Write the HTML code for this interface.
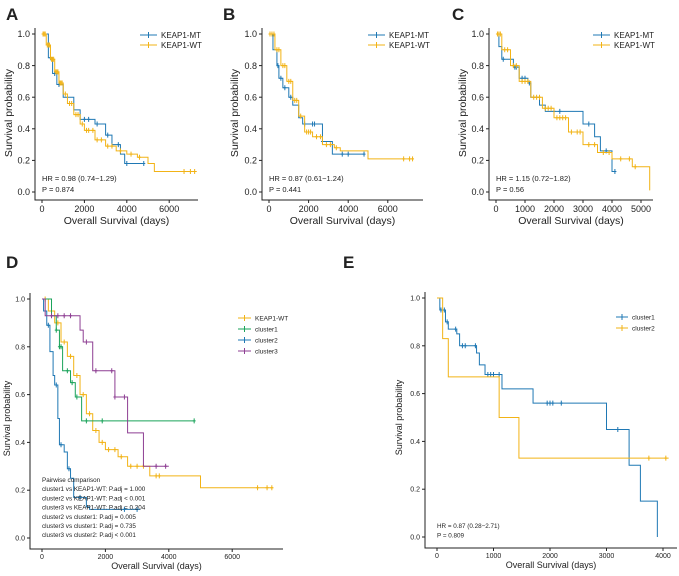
<!DOCTYPE html>
<html><head><meta charset="utf-8"><style>
body{margin:0;background:#fff}
svg{display:block;font-family:"Liberation Sans",Arial,sans-serif}
</style></head><body>
<svg id="fig" width="679" height="576" viewBox="0 0 679 576" xmlns="http://www.w3.org/2000/svg"></svg>
<script>
// ---- data ----
const aWtT=[0,200,400,600,800,1000,1200,1500,1800,2000,2500,3000,3500,4000,4500,5000,5300,7300];
const aWtS=[1,0.93,0.84,0.76,0.69,0.62,0.56,0.49,0.43,0.39,0.33,0.29,0.26,0.24,0.22,0.18,0.13,0.13];
const aWtC=[50,100,150,250,300,350,450,500,550,650,700,750,850,900,950,1100,1300,1400,1600,1700,1900,2100,2200,2400,2600,2800,3100,3300,3700,4200,4600,6700,7000,7200];
const aMtT=[0,300,500,700,1000,1500,1800,2500,3000,3300,3700,3900,4800];
const aMtS=[1,0.85,0.75,0.68,0.6,0.52,0.46,0.43,0.36,0.3,0.24,0.18,0.18];
const aMtC=[400,600,800,2000,2200,2600,3100,3600,4000,4800];
const bWtT=[0,300,600,900,1200,1500,1800,2200,2700,3300,3600,5000,7300];
const bWtS=[1,0.9,0.8,0.7,0.58,0.48,0.38,0.35,0.3,0.28,0.26,0.21,0.21];
const bWtC=[50,150,250,400,500,700,800,1000,1100,1300,1400,1600,1900,2000,2100,2400,2600,2900,3100,3400,6800,7100,7250];
const bMtT=[0,200,400,500,700,1000,1200,1500,1700,2700,2700,3200,4800];
const bMtS=[1,0.9,0.8,0.72,0.66,0.6,0.55,0.47,0.43,0.38,0.32,0.24,0.24];
const bMtC=[450,600,800,1100,1800,2200,2300,2700,3700,4000,4800];
const cWtT=[0,200,500,800,1200,1600,2000,2500,3000,3500,4000,4700,5300];
const cWtS=[1,0.9,0.8,0.7,0.6,0.53,0.47,0.38,0.3,0.25,0.21,0.16,0.01];
const cWtC=[50,100,150,300,400,600,700,900,1000,1100,1300,1400,1500,1700,1800,1900,2100,2200,2300,2400,2600,2800,2900,3200,3400,3700,3900,4300,4600,4800];
const cMtT=[0,100,200,600,800,1100,1200,1500,1700,3000,3400,3600,4000,4100];
const cMtS=[1,0.92,0.84,0.79,0.72,0.69,0.6,0.55,0.51,0.43,0.35,0.26,0.13,0.13];
const cMtC=[250,650,700,900,1000,1150,2000,2200,3200,3800,4100];
const dWtT=[0,200,400,600,800,1000,1200,1400,1600,1800,2000,2400,2700,3400,5000,7300];
const dWtS=[1,0.95,0.9,0.82,0.76,0.68,0.6,0.52,0.45,0.4,0.37,0.34,0.3,0.26,0.21,0.21];
const dWtC=[100,300,500,700,900,1100,1300,1500,1700,1900,2100,2300,2500,2800,3000,3200,3600,3700,6800,7100,7250];
const d1T=[0,300,450,550,650,900,1050,1250,4800];
const d1S=[1,0.93,0.87,0.8,0.7,0.65,0.59,0.49,0.49];
const d1C=[450,550,600,800,950,1100,1400,1900,4800];
const d2T=[0,50,150,250,350,400,500,550,700,800,900,1000,1400,1500,3100];
const d2S=[1,0.95,0.89,0.78,0.68,0.64,0.5,0.39,0.36,0.29,0.25,0.17,0.13,0.12,0.12];
const d2C=[200,450,600,850,1200,2600,3000];
const d3T=[0,100,1200,1300,1600,2300,2700,3200,4000];
const d3S=[1,0.93,0.87,0.82,0.7,0.59,0.44,0.3,0.3];
const d3C=[300,500,700,900,1400,1700,2200,2300,2600,3600,3900];
const e1T=[0,50,150,200,350,400,700,750,850,1150,1700,3000,3400,3600,3900];
const e1S=[1,0.95,0.9,0.87,0.85,0.8,0.77,0.72,0.68,0.62,0.56,0.45,0.3,0.15,0.0];
const e1C=[70,130,180,330,450,500,680,900,950,1000,1100,1950,2000,2050,2200,3200];
const e2T=[0,100,200,1100,1450,4100];
const e2S=[1,0.83,0.67,0.5,0.33,0.33];
const e2C=[3750,4050];
const xTicksA=[0,2000,4000,6000], xTicksC=[0,1000,2000,3000,4000,5000], xTicksE=[0,1000,2000,3000,4000];
const yTicks=[0,0.2,0.4,0.6,0.8,1.0];

const BLUE="#1f78b4",YEL="#f2b316",GRN="#1aa35a",PUR="#8e3f93";
const svg=document.getElementById('fig');
const NS="http://www.w3.org/2000/svg";
function mk(tag,attrs,parent){const e=document.createElementNS(NS,tag);for(const k in attrs)e.setAttribute(k,attrs[k]);(parent||svg).appendChild(e);return e;}
function txt(s,x,y,size,anchor,parent,name){const t=mk('text',{x:x,y:y,'font-size':size,'text-anchor':anchor||'start',fill:'#222'},parent);t.textContent=s;

return t;}
function survAt(T,S,t){let s=S[0];for(let i=0;i<T.length;i++){if(T[i]<=t)s=S[i];}return s;}

function panel(p){
  const g=mk('g',{});
  
  
  const X=v=>p.x0+v*p.kx/1000, Y=v=>p.y0-v*(p.y0-p.y1);
  const ax=mk('path',{d:`M${p.ax} ${p.y1-6}V${p.ab}H${p.ae}`,stroke:'#222','stroke-width':1,fill:'none'},g);
  
  
  yTicks.forEach(v=>{mk('line',{x1:p.ax-3,x2:p.ax,y1:Y(v),y2:Y(v),stroke:'#222'},g);txt(v.toFixed(1),p.ax-5,Y(v)+p.fs*0.35,p.fs,'end',g,'y-tick-label');});
  p.xt.forEach(v=>{mk('line',{x1:X(v),x2:X(v),y1:p.ab,y2:p.ab+3,stroke:'#222'},g);txt(String(v),X(v),p.ab+p.fs+3,p.fs,'middle',g,'x-tick-label');});
  txt('Overall Survival (days)',(p.ax+p.ae)/2,p.ab+p.fs*2+6,p.ts,'middle',g,'x-axis-title');
  const yl=txt('Survival probability',0,0,p.ts,'middle',g,'y-axis-title');
  yl.setAttribute('transform',`translate(${p.ylx},${(p.y0+p.y1)/2}) rotate(-90)`);
  txt(p.id.toUpperCase(),p.lx,p.ly,17,'start',g,'panel-letter').setAttribute('font-weight','bold');
  p.curves.forEach(c=>{
    let d=`M${X(c.T[0])} ${Y(c.S[0])}`;
    for(let i=1;i<c.T.length;i++){d+=`H${X(c.T[i])}V${Y(c.S[i])}`;}
    const pth=mk('path',{d:d,stroke:c.col,'stroke-width':1,fill:'none'},g);
    
    
    c.C.forEach(t=>{const cx=X(t),cy=Y(survAt(c.T,c.S,t));
      const m=mk('path',{d:`M${cx} ${cy-2.5}V${cy+2.5}M${cx-1.5} ${cy}H${cx+1.5}`,stroke:c.col,'stroke-width':1},g);
      
      });
  });
  p.curves.forEach((c,i)=>{const ly=p.legY+i*p.legDy;
    const l=mk('path',{d:`M${p.legX} ${ly}H${p.legX+p.legW}M${p.legX+p.legW/2} ${ly-3}V${ly+3}`,stroke:c.col,'stroke-width':1},g);
    
    
    txt(c.name,p.legX+p.legW+4,ly+p.lfs*0.35,p.lfs,'start',g,'legend-label');});
  p.notes.forEach((s,i)=>txt(s,p.nx,p.ny+i*p.ndy,p.nfs,'start',g,'annotation'));
}
const mt=(T,S,C)=>({name:'KEAP1-MT',T,S,C,col:BLUE}), wt=(T,S,C)=>({name:'KEAP1-WT',T,S,C,col:YEL});
const base={y1:34,y0:192,ab:200,fs:9,ts:10.5,lfs:8,legDy:10,legW:17,nfs:7.5,ndy:11,ly:20};
panel(Object.assign({},base,{id:'a',ax:35,ae:198,x0:42,kx:21.2,xt:xTicksA,ylx:12,lx:6,legX:140,legY:35,curves:[mt(aMtT,aMtS,aMtC),wt(aWtT,aWtS,aWtC)],notes:['HR = 0.98 (0.74\u22121.29)','P = 0.874'],nx:42,ny:181}));
panel(Object.assign({},base,{id:'b',ax:262,ae:423,x0:269,kx:19.8,xt:xTicksA,ylx:238,lx:223,legX:368,legY:35,curves:[mt(bMtT,bMtS,bMtC),wt(bWtT,bWtS,bWtC)],notes:['HR = 0.87 (0.61\u22121.24)','P = 0.441'],nx:269,ny:181}));
panel(Object.assign({},base,{id:'c',ax:489,ae:653,x0:496,kx:29,xt:xTicksC,ylx:466,lx:452,legX:593,legY:35,curves:[mt(cMtT,cMtS,cMtC),wt(cWtT,cWtS,cWtC)],notes:['HR = 1.15 (0.72\u22121.82)','P = 0.56'],nx:496,ny:181}));
panel({id:'d',ax:30,ae:283,x0:42,kx:31.7,xt:xTicksA,y1:299,y0:538,ab:549,fs:7,ts:9,ylx:10,lx:6,ly:268,lfs:6.5,legDy:11,legW:13,legX:238,legY:318,
  curves:[{name:'KEAP1-WT',T:dWtT,S:dWtS,C:dWtC,col:YEL},{name:'cluster1',T:d1T,S:d1S,C:d1C,col:GRN},{name:'cluster2',T:d2T,S:d2S,C:d2C,col:BLUE},{name:'cluster3',T:d3T,S:d3S,C:d3C,col:PUR}],
  notes:['Pairwise comparison','cluster1 vs KEAP1-WT: P.adj = 1.000','cluster2 vs KEAP1-WT: P.adj < 0.001','cluster3 vs KEAP1-WT: P.adj = 0.204','cluster2 vs cluster1: P.adj = 0.005','cluster3 vs cluster1: P.adj = 0.735','cluster3 vs cluster2: P.adj < 0.001'],nx:42,ny:482,ndy:9.2,nfs:6.3});
panel({id:'e',ax:425,ae:677,x0:437,kx:56.5,xt:xTicksE,y1:298,y0:537,ab:548,fs:7,ts:9,ylx:402,lx:343,ly:268,lfs:6.5,legDy:11,legW:12,legX:616,legY:317,
  curves:[{name:'cluster1',T:e1T,S:e1S,C:e1C,col:BLUE},{name:'cluster2',T:e2T,S:e2S,C:e2C,col:YEL}],
  notes:['HR = 0.87 (0.28\u22122.71)','P = 0.809'],nx:437,ny:528,ndy:9.5,nfs:6.3});
</script>
</body></html>
